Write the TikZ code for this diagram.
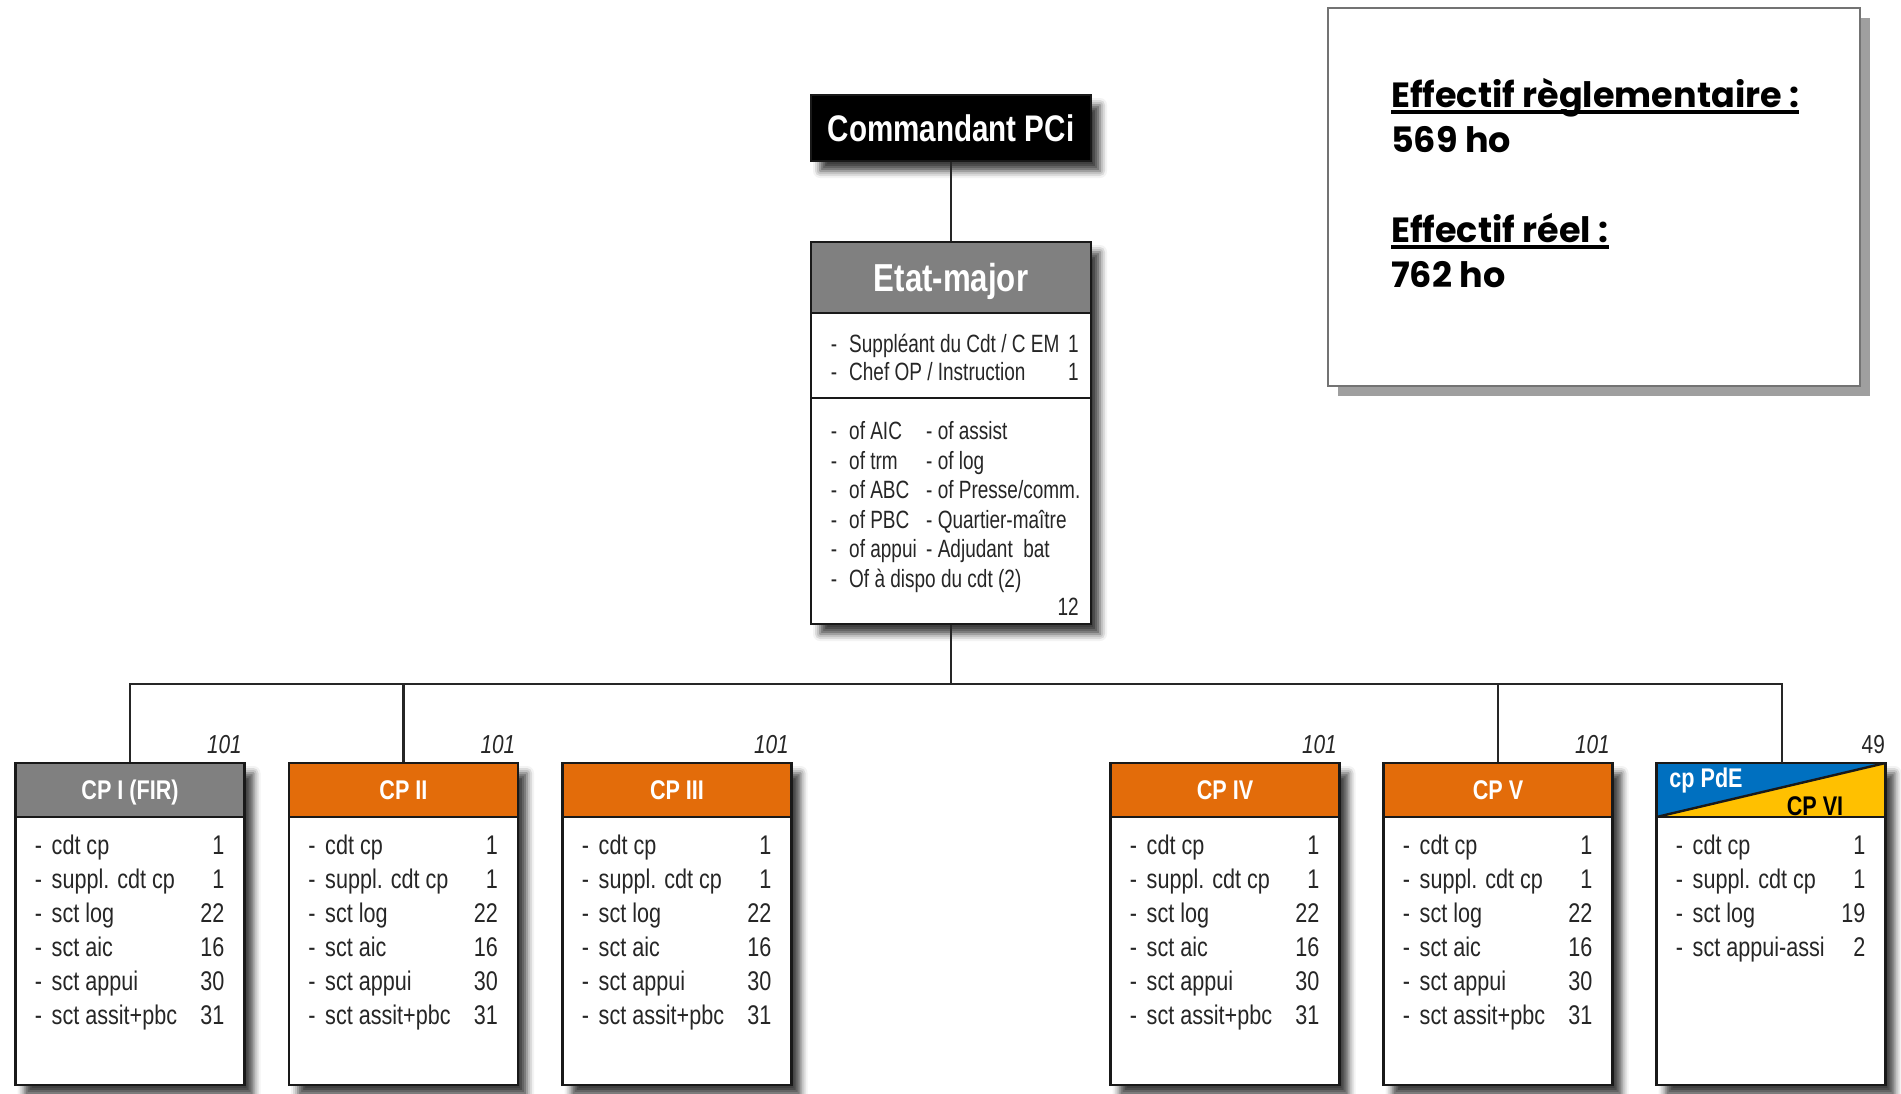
\documentclass[tikz,border=0pt]{standalone}
\usepackage{fontspec}
\setmainfont{Liberation Sans}
\newfontfamily\narfont[FakeStretch=0.80]{Liberation Sans}
\newfontfamily\narrfont[FakeStretch=0.76]{Liberation Sans}
\newfontfamily\geofont{Poppins}
\usetikzlibrary{shadows.blur,shadows}
\definecolor{cporange}{HTML}{E36C0A}
\definecolor{cpgray}{HTML}{808080}
\definecolor{pdeblue}{HTML}{0070C0}
\definecolor{pdeyellow}{HTML}{FFC000}
\definecolor{txtgray}{HTML}{262626}
\newcommand\myrowfont{\narfont\fontsize{27}{30}\selectfont}
\newcommand\myerowfont{\narrfont\fontsize{25}{28}\selectfont}
\newcommand\mycptitle{\narfont\bfseries\fontsize{27}{30}\selectfont}
\newcommand\myemtitle{\narfont\bfseries\fontsize{39}{42}\selectfont}
\newcommand\mycmdfont{\narfont\bfseries\fontsize{37}{40}\selectfont}
\newcommand\myinfofont{\geofont\bfseries\fontsize{35}{40}\selectfont}
\newcommand\mytotfont{\narfont\itshape\fontsize{26}{30}\selectfont}
\newcommand\mytotfontup{\narfont\fontsize{26}{30}\selectfont}

\newcommand\cpbox[5]{%
  \node[shad, fill=white, minimum width=229, minimum height=322, inner sep=0pt] (#1) at (#2,924) {};
  \node[frame, fill=#4, minimum width=229, minimum height=54, text=white, font=\mycptitle, text height=19pt, text depth=0pt] (#1h) at (#2,790) {#3};
  \node[frame, minimum width=229, minimum height=268] (#1b) at (#2,951) {};
  \node[anchor=base east, inner sep=0pt, text=txtgray, font=\mytotfont] (#1tot) at (#2+112,753) {101};
  \foreach \itemtxt/\itemnum [count=\i] in {#5} {
    \node[row, anchor=base] (#1d\i) at (#2-91.5,{820+34*\i}) {-};
    \node[row, anchor=base west] (#1t\i) at (#2-78.5,{820+34*\i}) {\itemtxt};
    \node[row, anchor=base east] (#1n\i) at (#2+94.5,{820+34*\i}) {\itemnum};
  }
}

\begin{document}
\begin{tikzpicture}[x=1pt,y=-1pt,
  shad/.style={blur shadow={shadow xshift=9pt,shadow yshift=-10pt,shadow blur radius=7pt,shadow opacity=75}},
  frame/.style={draw=black!90, line width=2.4pt, inner sep=0pt, rectangle},
  conn/.style={draw=black!85, line width=2.6pt},
  row/.style={inner sep=0pt, text=txtgray, font=\myrowfont},
  erow/.style={inner sep=0pt, text=txtgray, font=\myerowfont},
  info/.style={anchor=base west, inner sep=0pt, font=\myinfofont, text=black}
]
\useasboundingbox (0,0) rectangle (1901,1093);

% info box
\node[draw=gray!90!black, line width=2.5pt, fill=white, minimum width=532, minimum height=378, inner sep=0pt,
      drop shadow={shadow xshift=10pt, shadow yshift=-10pt, fill=gray!75, opacity=1}] (info) at (1594,197) {};
\node[info] (i1) at (1391,107) {Effectif règlementaire :};
\node[info] (i2) at (1391,152) {569 ho};
\node[info] (i3) at (1391,242) {Effectif réel :};
\node[info] (i4) at (1391,287) {762 ho};
\draw[line width=3.5pt] ([yshift=-5pt]i1.base west) -- ([yshift=-5pt]i1.base east);
\draw[line width=3.5pt] ([yshift=-5pt]i3.base west) -- ([yshift=-5pt]i3.base east);

% commandant
\node[frame, fill=black, shad, minimum width=280, minimum height=66, text=white, font=\mycmdfont, text height=26.5pt, text depth=0pt] (cmd) at (951,128) {Commandant PCi};

% etat-major
\node[shad, fill=white, minimum width=280, minimum height=382, inner sep=0pt] (em) at (951,433) {};
\node[frame, minimum width=280, minimum height=85] (em1) at (951,355.5) {};
\node[frame, minimum width=280, minimum height=226] (em2) at (951,511) {};
\node[frame, fill=cpgray, minimum width=280, minimum height=71, text=white, font=\myemtitle, text height=28pt, text depth=0pt] (emh) at (951,277.5) {Etat-major};

\node[erow, anchor=base] (ea1d) at (834,352) {-};
\node[erow, anchor=base west] (ea1t) at (849,352) {Suppléant du Cdt / C EM};
\node[erow, anchor=base east] (ea1n) at (1079,352) {1};
\node[erow, anchor=base] (ea2d) at (834,380) {-};
\node[erow, anchor=base west] (ea2t) at (849,380) {Chef OP / Instruction};
\node[erow, anchor=base east] (ea2n) at (1079,380) {1};

\foreach \lefttxt/\yy [count=\i] in {of AIC/439, of trm/469, of ABC/498, of PBC/528, of appui/557, Of à dispo du cdt (2)/587} {
  \node[erow, anchor=base] (eb\i d) at (834,\yy) {-};
  \node[erow, anchor=base west] (eb\i t) at (849,\yy) {\lefttxt};
}
\foreach \righttxt/\yy [count=\i] in {{- of assist}/439, {- of log}/469, {- of Presse/comm.}/498, {- Quartier-maître}/528, {- Adjudant\ \ bat}/557} {
  \node[erow, anchor=base west] (ec\i) at (926,\yy) {\righttxt};
}
\node[erow, anchor=base east] (ebn) at (1079,615) {12};

% companies
\cpbox{cpa}{130}{CP I (FIR)}{cpgray}{cdt cp/1, suppl. cdt cp/1, sct log/22, sct aic/16, sct appui/30, sct assit+pbc/31}
\cpbox{cpb}{403.5}{CP II}{cporange}{cdt cp/1, suppl. cdt cp/1, sct log/22, sct aic/16, sct appui/30, sct assit+pbc/31}
\cpbox{cpc}{677}{CP III}{cporange}{cdt cp/1, suppl. cdt cp/1, sct log/22, sct aic/16, sct appui/30, sct assit+pbc/31}
\cpbox{cpd}{1225}{CP IV}{cporange}{cdt cp/1, suppl. cdt cp/1, sct log/22, sct aic/16, sct appui/30, sct assit+pbc/31}
\cpbox{cpe}{1498}{CP V}{cporange}{cdt cp/1, suppl. cdt cp/1, sct log/22, sct aic/16, sct appui/30, sct assit+pbc/31}

% cp PdE / CP VI
\node[shad, fill=white, minimum width=229, minimum height=322, inner sep=0pt] (pde) at (1771,924) {};
\node[frame, minimum width=229, minimum height=54,
  path picture={
    \fill[pdeblue] (path picture bounding box.north west) -- (path picture bounding box.north east) -- (path picture bounding box.south west) -- cycle;
    \fill[pdeyellow] (path picture bounding box.north east) -- (path picture bounding box.south east) -- (path picture bounding box.south west) -- cycle;
    \draw[line width=2.4pt, black!90] (path picture bounding box.south west) -- (path picture bounding box.north east);
  }] (pdeh) at (1771,790) {};
\node[frame, minimum width=229, minimum height=268] (pdeb) at (1771,951) {};
\node[anchor=center, inner sep=0pt, text=white, font=\mycptitle] (pdel) at (1706,781) {cp PdE};
\node[anchor=center, inner sep=0pt, text=black, font=\mycptitle] (pdevi) at (1815,806) {CP VI};
\node[anchor=base east, inner sep=0pt, text=txtgray, font=\mytotfontup] (pdetot) at (1885,753) {49};
\foreach \itemtxt/\itemnum [count=\i] in {cdt cp/1, suppl. cdt cp/1, sct log/19, sct appui-assi/2} {
  \node[row, anchor=base] (pded\i) at (1679.5,{820+34*\i}) {-};
  \node[row, anchor=base west] (pdet\i) at (1692.5,{820+34*\i}) {\itemtxt};
  \node[row, anchor=base east] (pden\i) at (1865.5,{820+34*\i}) {\itemnum};
}

% connectors
\coordinate (bus) at (951,684);
\coordinate (pdedrop) at (1782,763);
\draw[conn] (cmd.south) -- (emh.north);
\draw[conn] (em2.south) -- (bus);
\draw[conn] (cpah.north) |- (bus) -| (pdedrop);
\draw[conn] (cpbh.north) -- (cpbh.north |- bus);
\draw[conn] (cpeh.north) -- (cpeh.north |- bus);
\end{tikzpicture}
\end{document}
